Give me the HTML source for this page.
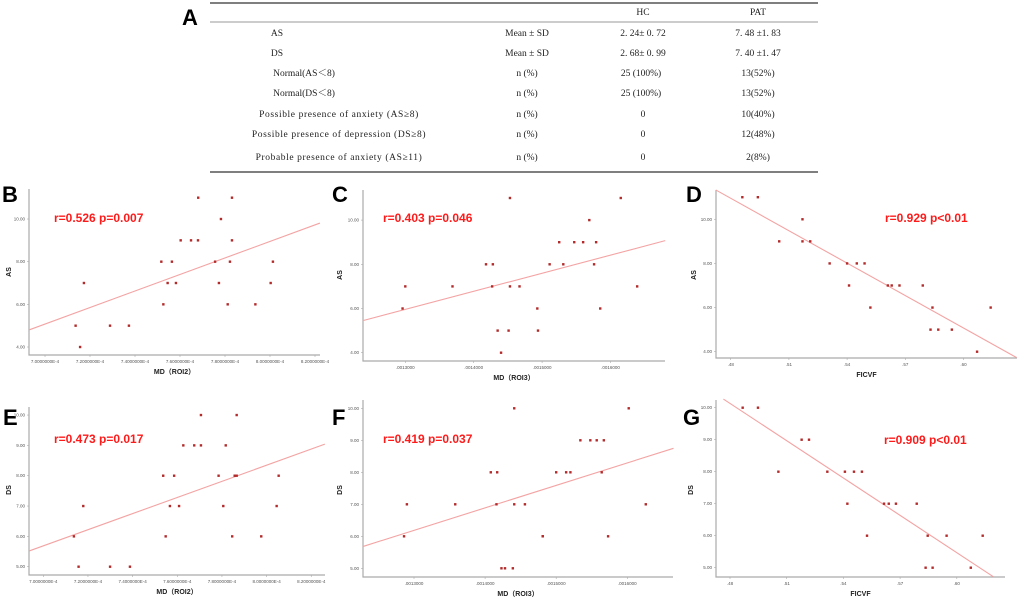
<!DOCTYPE html>
<html><head><meta charset="utf-8">
<style>
body{margin:0;background:#fff;width:1020px;height:600px;overflow:hidden;}
svg{display:block;}
.tbl{font-family:"Liberation Serif","Noto Serif CJK SC",serif;font-size:9.5px;fill:#222;}
.plab{font-family:"Liberation Sans",sans-serif;font-weight:bold;font-size:22px;fill:#000;}
.tick{font-family:"Liberation Sans",sans-serif;font-size:4.5px;fill:#555;}
.axl{font-family:"Liberation Sans","Noto Sans CJK SC",sans-serif;font-weight:bold;font-size:7px;fill:#222;}
.ann{font-family:"Liberation Sans",sans-serif;font-weight:bold;font-size:12px;fill:#ff1a1a;}
</style></head>
<body>
<svg id="fig" width="1020" height="600" viewBox="0 0 1020 600">
<g>
<text class="plab" x="182" y="25" font-size="24">A</text>
<line x1="210" y1="3" x2="818" y2="3" stroke="#555" stroke-width="1.5"/>
<line x1="210" y1="22" x2="818" y2="22" stroke="#999" stroke-width="1"/>
<line x1="210" y1="172" x2="818" y2="172" stroke="#555" stroke-width="1.5"/>
<text class="tbl" x="643" y="15" text-anchor="middle">HC</text>
<text class="tbl" x="758" y="15" text-anchor="middle">PAT</text>
<g><text class="tbl" x="277" y="36" text-anchor="middle">AS</text><text class="tbl" x="527" y="36" text-anchor="middle">Mean ± SD</text><text class="tbl" x="643" y="36" text-anchor="middle">2. 24± 0. 72</text><text class="tbl" x="758" y="36" text-anchor="middle">7. 48 ±1. 83</text></g>
<g><text class="tbl" x="277" y="56" text-anchor="middle">DS</text><text class="tbl" x="527" y="56" text-anchor="middle">Mean ± SD</text><text class="tbl" x="643" y="56" text-anchor="middle">2. 68± 0. 99</text><text class="tbl" x="758" y="56" text-anchor="middle">7. 40 ±1. 47</text></g>
<g><text class="tbl" x="304" y="76" text-anchor="middle">Normal(AS＜8)</text><text class="tbl" x="527" y="76" text-anchor="middle">n (%)</text><text class="tbl" x="641" y="76" text-anchor="middle">25 (100%)</text><text class="tbl" x="758" y="76" text-anchor="middle">13(52%)</text></g>
<g><text class="tbl" x="304" y="96" text-anchor="middle">Normal(DS＜8)</text><text class="tbl" x="527" y="96" text-anchor="middle">n (%)</text><text class="tbl" x="641" y="96" text-anchor="middle">25 (100%)</text><text class="tbl" x="758" y="96" text-anchor="middle">13(52%)</text></g>
<g><text class="tbl" x="339" y="117" text-anchor="middle" letter-spacing="0.6">Possible presence of anxiety (AS≥8)</text><text class="tbl" x="527" y="117" text-anchor="middle">n (%)</text><text class="tbl" x="643" y="117" text-anchor="middle">0</text><text class="tbl" x="758" y="117" text-anchor="middle">10(40%)</text></g>
<g><text class="tbl" x="339" y="137" text-anchor="middle" letter-spacing="0.6">Possible presence of depression (DS≥8)</text><text class="tbl" x="527" y="137" text-anchor="middle">n (%)</text><text class="tbl" x="643" y="137" text-anchor="middle">0</text><text class="tbl" x="758" y="137" text-anchor="middle">12(48%)</text></g>
<g><text class="tbl" x="339" y="160" text-anchor="middle" letter-spacing="0.6">Probable presence of anxiety (AS≥11)</text><text class="tbl" x="527" y="160" text-anchor="middle">n (%)</text><text class="tbl" x="643" y="160" text-anchor="middle">0</text><text class="tbl" x="758" y="160" text-anchor="middle">2(8%)</text></g>
</g>
</svg>
<script>
// ---- data (x in units shown; MD ROI2 in 1e-4, MD ROI3 in 1e-4) ----
const bX=[7.681,7.831,7.782,7.603,7.649,7.680,7.831,7.517,7.564,7.756,7.822,8.013,7.173,7.545,7.582,7.773,8.003,7.526,7.812,7.935,7.136,7.289,7.373,7.156];
const bY=[11,11,10,9,9,9,9,8,8,8,8,8,7,7,7,7,7,6,6,6,5,5,5,4];
const bFit=[[6.929,4.80],[8.222,9.81]];
const cX=[14.53,16.15,15.69,15.25,15.47,15.60,15.79,14.18,14.28,15.11,15.31,15.76,13.00,13.69,14.27,14.53,14.67,16.39,12.96,14.93,15.85,14.35,14.51,14.94,14.40];
const cY=[11,11,10,9,9,9,9,8,8,8,8,8,7,7,7,7,7,7,6,6,6,5,5,5,4];
const cFit=[[12.38,5.45],[16.80,9.07]];
const dX=[.486,.494,.517,.505,.517,.521,.531,.540,.545,.549,.541,.561,.563,.567,.579,.552,.584,.614,.583,.587,.594,.607];
const dY=[11,11,10,9,9,9,8,8,8,8,7,7,7,7,7,6,6,6,5,5,5,4];
const dFit=[[.4723,11.33],[.6274,3.73]];
const eX=[7.706,7.866,7.627,7.676,7.706,7.817,7.537,7.586,7.785,7.857,7.866,8.054,7.179,7.567,7.608,7.806,8.045,7.137,7.548,7.846,7.976,7.158,7.299,7.388];
const eY=[10,10,9,9,9,9,8,8,8,8,8,8,7,7,7,7,7,6,6,6,6,5,5,5];
const eFit=[[6.937,5.52],[8.261,9.04]];
const fX=[14.41,16.02,15.34,15.48,15.57,15.67,14.08,14.17,15.00,15.14,15.20,15.64,12.90,13.58,14.16,14.41,14.56,16.26,12.86,14.81,14.81,15.73,14.23,14.28,14.39];
const fY=[10,10,9,9,9,9,8,8,8,8,8,8,7,7,7,7,7,7,6,6,6,6,5,5,5];
const fFit=[[12.28,5.68],[16.65,8.75]];
const gX=[.4867,.4948,.5179,.5218,.5056,.5315,.5408,.5456,.5498,.5421,.5615,.5640,.5678,.5788,.5525,.5846,.5946,.6137,.5835,.5872,.6074];
const gY=[10,10,9,9,8,8,8,8,8,7,7,7,7,7,6,6,6,6,5,5,5];
const gFit=[[.4765,10.27],[.6193,4.72]];
const mdRoi2Ticks=[7.0,7.2,7.4,7.6,7.8,8.0,8.2];
const mdRoi2Labels=["7.0000000E-4","7.2000000E-4","7.4000000E-4","7.6000000E-4","7.8000000E-4","8.0000000E-4","8.2000000E-4"];
const mdRoi3Ticks=[13,14,15,16];
const mdRoi3Labels=[".0013000",".0014000",".0015000",".0016000"];
const ficvfTicks=[.48,.51,.54,.57,.60];
const ficvfLabels=[".48",".51",".54",".57",".60"];
const asTicks=[4,6,8,10];
const dsTicks=[5,6,7,8,9,10];

const NS="http://www.w3.org/2000/svg";
const fig=document.getElementById('fig');
function mk(tag,attrs,parent){const e=document.createElementNS(NS,tag);for(const k in attrs)e.setAttribute(k,attrs[k]);parent.appendChild(e);return e;}

function panel(p){
  const g=mk('g',{},fig);
  
  
  const sx=v=>p.x0px+(v-p.x0)*p.xs;
  const sy=v=>p.y0px-(v-p.y0)*p.ys;
  const lbl=mk('text',{class:'plab',x:p.lx,y:p.ly},g);lbl.textContent=p.id.toUpperCase();
  
  
  const ax=mk('path',{d:`M${p.l},${p.t}V${p.b}H${p.r}`,fill:'none',stroke:'#aaa','stroke-width':1.2},g);
  
  
  p.yt.forEach(v=>{const t=mk('text',{class:'tick',x:p.l-4,y:sy(v)+1.5,'text-anchor':'end'},g);t.textContent=v.toFixed(2);
    
    
    mk('line',{x1:p.l-2,x2:p.l,y1:sy(v),y2:sy(v),stroke:'#aaa','stroke-width':0.6},g);});
  p.xt.forEach((v,i)=>{const t=mk('text',{class:'tick',x:sx(v),y:p.b+8,'text-anchor':'middle'},g);t.textContent=p.xl[i];
    
    
    mk('line',{x1:sx(v),x2:sx(v),y1:p.b,y2:p.b+2,stroke:'#aaa','stroke-width':0.6},g);});
  const yl=mk('text',{class:'axl',x:0,y:0,'text-anchor':'middle',transform:`translate(${p.ylx},${p.yly}) rotate(-90)`},g);yl.textContent=p.ylab;
  
  
  const xl=mk('text',{class:'axl',x:(p.l+p.r)/2,y:p.b+19,'text-anchor':'middle'},g);xl.textContent=p.xlab;
  
  
  const fl=mk('line',{x1:sx(p.fit[0][0]),y1:sy(p.fit[0][1]),x2:sx(p.fit[1][0]),y2:sy(p.fit[1][1]),stroke:'#f4a3a3','stroke-width':1.1},g);
  
  
  p.xs_.forEach((v,i)=>{const r=mk('rect',{x:sx(v)-1.2,y:sy(p.ys_[i])-1.2,width:2.4,height:2.4,fill:'#b22a2a'},g);
    
    });
  const an=mk('text',{class:'ann',x:p.ax,y:p.ay},g);an.textContent=p.ann;
  
  
}
panel({id:'b',l:29,t:189,r:320,b:355,x0:7.0,x0px:45,xs:225,y0:4,y0px:347,ys:21.33,xt:mdRoi2Ticks,xl:mdRoi2Labels,yt:asTicks,xs_:bX,ys_:bY,fit:bFit,ylab:'AS',xlab:'MD（ROI2）',ylx:11,yly:272,lx:2,ly:202,ax:54,ay:222,ann:'r=0.526 p=0.007'});
panel({id:'c',l:363,t:190,r:665,b:361,x0:13,x0px:405.3,xs:68.4,y0:4,y0px:352.7,ys:22.1,xt:mdRoi3Ticks,xl:mdRoi3Labels,yt:asTicks,xs_:cX,ys_:cY,fit:cFit,ylab:'AS',xlab:'MD（ROI3）',ylx:342,yly:275,lx:332,ly:202,ax:383,ay:222,ann:'r=0.403 p=0.046'});
panel({id:'d',l:716,t:190,r:1017,b:358,x0:.48,x0px:730.7,xs:1940,y0:4,y0px:351.7,ys:22.07,xt:ficvfTicks,xl:ficvfLabels,yt:asTicks,xs_:dX,ys_:dY,fit:dFit,ylab:'AS',xlab:'FICVF',ylx:696,yly:275,lx:686,ly:202,ax:885,ay:222,ann:'r=0.929 p<0.01'});
panel({id:'e',l:29,t:407,r:325,b:575,x0:7.0,x0px:43.3,xs:223.3,y0:5,y0px:566.7,ys:30.33,xt:mdRoi2Ticks,xl:mdRoi2Labels,yt:dsTicks,xs_:eX,ys_:eY,fit:eFit,ylab:'DS',xlab:'MD（ROI2）',ylx:11,yly:490,lx:3,ly:425,ax:54,ay:443,ann:'r=0.473 p=0.017'});
panel({id:'f',l:363,t:400,r:673,b:577,x0:13,x0px:414,xs:71.1,y0:5,y0px:568.3,ys:32,xt:mdRoi3Ticks,xl:mdRoi3Labels,yt:dsTicks,xs_:fX,ys_:fY,fit:fFit,ylab:'DS',xlab:'MD（ROI3）',ylx:342,yly:490,lx:332,ly:425,ax:383,ay:443,ann:'r=0.419 p=0.037'});
panel({id:'g',l:716,t:400,r:1005,b:577,x0:.48,x0px:730,xs:1890,y0:5,y0px:567.7,ys:32,xt:ficvfTicks,xl:ficvfLabels,yt:dsTicks,xs_:gX,ys_:gY,fit:gFit,ylab:'DS',xlab:'FICVF',ylx:693,yly:490,lx:683,ly:425,ax:884,ay:444,ann:'r=0.909 p<0.01'});
</script>
</body></html>
